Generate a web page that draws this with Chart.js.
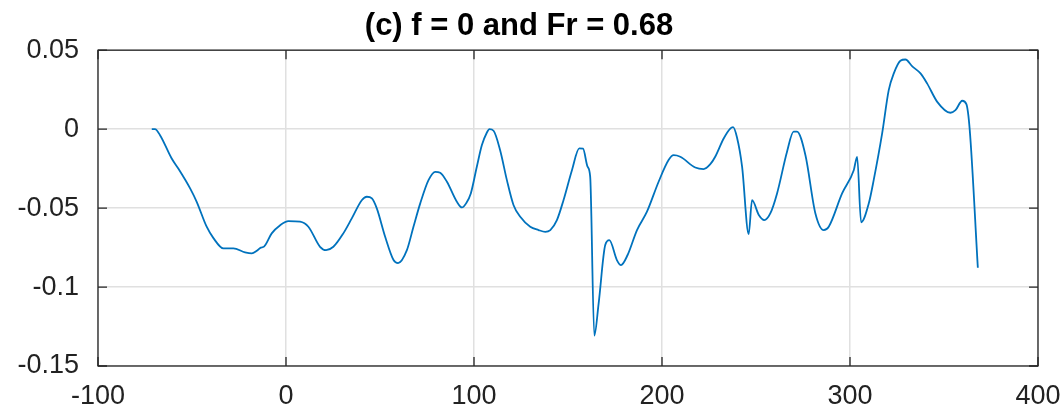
<!DOCTYPE html>
<html>
<head>
<meta charset="utf-8">
<script src="https://cdn.jsdelivr.net/npm/chart.js@4"></script>
<style>
  body { margin: 0; background: #fff; }
  #wrap { width: 1060px; height: 412px; }
</style>
</head>
<body>
<div id="wrap"><canvas id="plot"></canvas></div>
<script>
// profile along the section, x position and value
const xPos = [-71.4, -69.7, -67, -60.8, -57.3, -51, -47.5, -42.2, -38.6, -33.3, -28, -21.8, -18.2, -15.5, -13.4, -11.7,
  -7.6, -3.1, 1.3, 7.5, 11.9, 18.1, 21.3, 25.2, 30.5, 35, 40.3, 43, 45.7, 48.3, 52.7, 57.2, 59.6, 64.3, 67.8, 71.4,
  75.8, 79.4, 82, 85.6, 90.9, 93.6, 95.8, 98.3, 101.5, 104.2, 106.8, 108.2, 110.4, 113.9, 117.5, 121, 124.6, 129.9,
  134.3, 137.9, 140.6, 144.1, 147.6, 152.1, 156, 158, 160.4, 161.8, 164, 166.3, 169.8, 172, 176, 178.2, 181.7, 186.7,
  192, 198.2, 203.5, 206.2, 209.7, 217.7, 222.1, 225.7, 228.3, 232.8, 236.3, 237.8, 239.9, 242.6, 246.1, 247.9, 251.5,
  254.4, 257.6, 261.2, 266.5, 270, 271.8, 276.3, 281.6, 286, 288.7, 295.8, 302, 303.8, 305.9, 310, 312.6, 317.1, 320.6,
  323.3, 326.8, 329.5, 333, 337.5, 341, 346.4, 353.4, 356.1, 359.7, 361.9, 363.7, 368];
const yVal = [0, 0, -0.0038, -0.0186, -0.0249, -0.0375, -0.046, -0.0618, -0.069, -0.0755, -0.0755, -0.078, -0.0787, -0.077, -0.075, -0.0744,
  -0.066, -0.0608, -0.0582, -0.0586, -0.0618, -0.0745, -0.0766, -0.0745, -0.066, -0.0565, -0.045, -0.0428, -0.0439, -0.0502, -0.068, -0.0829, -0.0848, -0.0766, -0.0618, -0.047,
  -0.0323, -0.027, -0.0276, -0.0333, -0.046, -0.0496, -0.047, -0.0407, -0.0238, -0.0101, -0.0023, 0, -0.001, -0.0133, -0.0323, -0.048, -0.0555, -0.0618,
  -0.0639, -0.065, -0.0639, -0.0576, -0.045, -0.026, -0.0122, -0.0124, -0.0238, -0.0301, -0.1308, -0.1103, -0.0734, -0.0703, -0.0829, -0.0861, -0.0797, -0.0639,
  -0.0523, -0.0333, -0.0196, -0.0165, -0.0175, -0.0243, -0.0253, -0.0222, -0.0175, -0.0059, 0.0004, 0.0013, -0.0053, -0.0238, -0.0665, -0.045, -0.0544,
  -0.0576, -0.0534, -0.0407, -0.0143, -0.0016, -0.0016, -0.0165, -0.0534, -0.0639, -0.0618, -0.0407, -0.026, -0.0175, -0.059, -0.047, -0.0323, -0.0027, 0.0247,
  0.0353, 0.0433, 0.0441, 0.0399, 0.0353, 0.029, 0.0173, 0.0104, 0.012, 0.018, 0.0158, -0.0006, -0.0878];

const xTicks = [-100, 0, 100, 200, 300, 400];
const yTicks = [-0.15, -0.1, -0.05, 0, 0.05];
const yTickText = ['-0.15', '-0.1', '-0.05', '0', '0.05'];

const points = xPos.map((x, i) => ({ x: x, y: yVal[i] }));
const fontFam = "'Liberation Sans', Arial, Helvetica, sans-serif";

// box around the axes with short inward tick marks on all four sides
const boxPlugin = {
  id: 'box',
  afterDatasetsDraw(chart) {
    const { ctx, chartArea: a, scales } = chart;
    ctx.save();
    ctx.strokeStyle = '#262626';
    ctx.lineWidth = 1.3;
    ctx.strokeRect(a.left, a.top, a.right - a.left, a.bottom - a.top);
    ctx.beginPath();
    xTicks.forEach(v => {
      const px = scales.x.getPixelForValue(v);
      ctx.moveTo(px, a.bottom); ctx.lineTo(px, a.bottom - 9);
      ctx.moveTo(px, a.top); ctx.lineTo(px, a.top + 9);
    });
    yTicks.forEach(v => {
      const py = scales.y.getPixelForValue(v);
      ctx.moveTo(a.left, py); ctx.lineTo(a.left + 9, py);
      ctx.moveTo(a.right, py); ctx.lineTo(a.right - 9, py);
    });
    ctx.stroke();
    ctx.restore();
  }
};

new Chart(document.getElementById('plot'), {
  type: 'scatter',
  data: {
    datasets: [{
      data: points,
      showLine: true,
      borderColor: '#0072BD',
      borderWidth: 1.8,
      pointRadius: 0,
      cubicInterpolationMode: 'monotone',
      fill: false
    }]
  },
  options: {
    responsive: true,
    maintainAspectRatio: false,
    animation: false,
    layout: { padding: { left: 0, right: 22, top: 0, bottom: 0 } },
    plugins: {
      legend: { display: false },
      tooltip: { enabled: false },
      title: {
        display: true,
        text: '(c) f = 0 and Fr = 0.68',
        color: '#000',
        font: { family: fontFam, size: 31, weight: 'bold' },
        padding: { top: 8, bottom: 5 }
      }
    },
    scales: {
      x: {
        type: 'linear',
        min: -100,
        max: 400,
        afterFit: s => { s.height = 46; s.paddingLeft = 0; s.paddingRight = 0; },
        afterBuildTicks: s => { s.ticks = xTicks.map(v => ({ value: v })); },
        grid: { color: '#e0e0e0', lineWidth: 1.5, drawTicks: false },
        border: { display: false },
        ticks: {
          color: '#222',
          padding: 14,
          maxRotation: 0,
          font: { family: fontFam, size: 27 },
          callback: v => String(v)
        }
      },
      y: {
        type: 'linear',
        min: -0.15,
        max: 0.05,
        afterFit: s => { s.width = 98; s.paddingTop = 0; s.paddingBottom = 0; },
        afterBuildTicks: s => { s.ticks = yTicks.map(v => ({ value: v })); },
        grid: { color: '#e0e0e0', lineWidth: 1.5, drawTicks: false },
        border: { display: false },
        ticks: {
          color: '#222',
          padding: 19,
          font: { family: fontFam, size: 27 },
          callback: v => yTickText[yTicks.findIndex(t => Math.abs(t - v) < 1e-9)]
        }
      }
    }
  },
  plugins: [boxPlugin]
});
</script>
</body>
</html>
